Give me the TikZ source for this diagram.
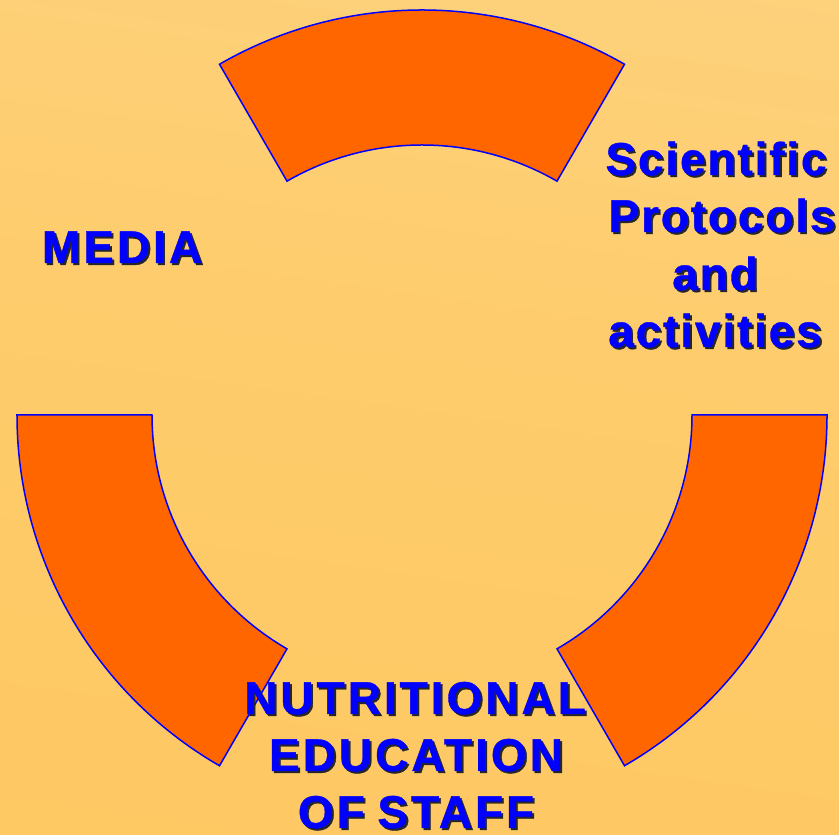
\documentclass[tikz,border=0pt]{standalone}
\usepackage{fontspec}
\newfontfamily\labfont{Liberation Sans}[LetterSpace=4, BoldFeatures={FakeBold=0.8}]
\newfontfamily\capfont{Liberation Sans}[LetterSpace=6.5, WordSpace=0.8, BoldFeatures={FakeBold=0.8}]
\definecolor{bgtop}{RGB}{253,223,154}
\definecolor{bgup}{RGB}{253,212,130}
\definecolor{bgmid}{RGB}{254,204,108}
\definecolor{bgbot}{RGB}{254,198,92}
\definecolor{seg}{RGB}{255,102,0}
\definecolor{ink}{RGB}{0,0,255}
\pgfdeclareverticalshading{bgshade}{100bp}{color(0bp)=(bgbot); color(55bp)=(bgmid); color(85bp)=(bgup); color(100bp)=(bgtop)}
\usetikzlibrary{calc}
\tikzset{
  segment/.style={fill=seg, draw=ink, line width=1.5bp, line join=miter},
  lab/.style={font=\labfont\bfseries\fontsize{46bp}{57bp}\selectfont, text=ink, inner sep=0pt, anchor=base},
  caplab/.style={lab, font=\capfont\bfseries\fontsize{46bp}{57bp}\selectfont},
  labshadow/.style={text=black!85}
}
\newcommand{\shadowlabel}[4][lab]{%
  \node[#1, labshadow] (#2s) at ($(#3)+(2bp,-2bp)$) {#4};
  \node[#1] (#2) at (#3) {#4};
}
\begin{document}
\begin{tikzpicture}[x=1bp,y=1bp]
  \useasboundingbox (0,0) rectangle (839,835);
  \shade[shading=bgshade, shading angle=-8] (-30,-30) rectangle (869,865);
  \coordinate (c) at (422,420);
  % top segment
  \draw[segment] ($(c)+(60:405bp)$) arc[start angle=60, end angle=120, radius=405bp]
     -- ($(c)+(120:270bp)$) arc[start angle=120, end angle=60, radius=270bp] -- cycle;
  % left segment
  \draw[segment] ($(c)+(180:405bp)$) arc[start angle=180, end angle=240, radius=405bp]
     -- ($(c)+(240:270bp)$) arc[start angle=240, end angle=180, radius=270bp] -- cycle;
  % right segment
  \draw[segment] ($(c)+(300:405bp)$) arc[start angle=300, end angle=360, radius=405bp]
     -- ($(c)+(0:270bp)$) arc[start angle=360, end angle=300, radius=270bp] -- cycle;
  % labels
  \coordinate (pm) at (122,572);
  \shadowlabel[caplab]{media}{pm}{MEDIA}
  \coordinate (p1) at (716,660);
  \coordinate (p2) at (722,603);
  \coordinate (p3) at (715,545);
  \coordinate (p4) at (715,488);
  \shadowlabel{sci}{p1}{Scientific}
  \shadowlabel{prot}{p2}{Protocols}
  \shadowlabel{and}{p3}{and}
  \shadowlabel{act}{p4}{activities}
  \coordinate (b1) at (415,121);
  \coordinate (b2) at (416,64);
  \coordinate (b3) at (416,7);
  \shadowlabel[caplab]{nut}{b1}{NUTRITIONAL}
  \shadowlabel[caplab]{edu}{b2}{EDUCATION}
  \shadowlabel[caplab]{staff}{b3}{OF STAFF}
\end{tikzpicture}
\end{document}
